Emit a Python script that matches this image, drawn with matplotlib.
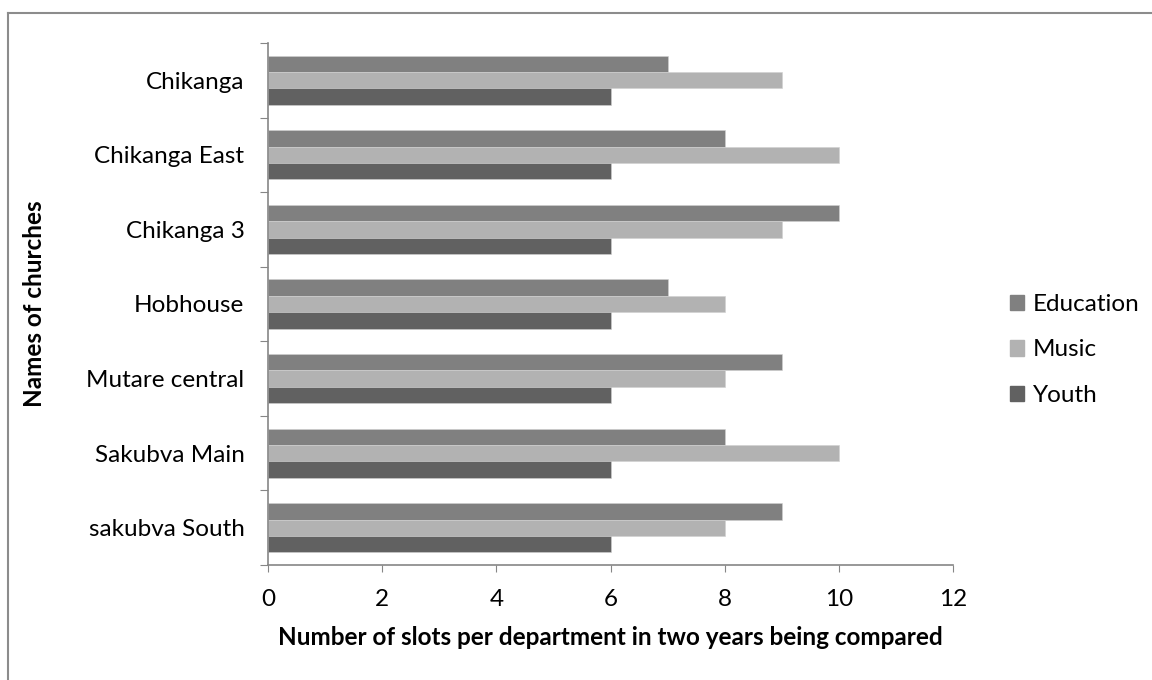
import matplotlib

matplotlib.use("Agg")
import matplotlib.pyplot as plt
import numpy as np
from matplotlib.lines import Line2D

churches = ["Chikanga", "Chikanga East", "Chikanga 3", "Hobhouse",
            "Mutare central", "Sakubva Main", "sakubva South"]
education = [7, 8, 10, 7, 9, 8, 9]
music = [9, 10, 9, 8, 8, 10, 8]
youth = [6, 6, 6, 6, 6, 6, 6]

series = [("Education", education, "#808080"),
          ("Music", music, "#b2b2b2"),
          ("Youth", youth, "#616161")]

plt.rcParams["font.family"] = ["Lato", "DejaVu Sans"]
FS = 17.5

fig = plt.figure(figsize=(11.52, 6.8), dpi=100)
ax = fig.add_axes([268 / 1152, 1 - 565 / 680, (953 - 268) / 1152, (565 - 43) / 680])

n = len(churches)
pos = np.arange(n)[::-1]
h = 0.22
for i, (name, vals, color) in enumerate(series):
    ax.barh(pos + (1 - i) * h, vals, height=h, color=color, label=name,
            edgecolor="#d0d0d0", linewidth=0.4)

ax.set_xlim(0, 12)
ax.set_ylim(-0.5, n - 0.5)
ax.set_xticks(range(0, 13, 2))
ax.tick_params(axis="x", labelsize=FS, length=5, color="#868686", pad=12)

# category ticks sit on group boundaries, labels in the middle
ax.set_yticks(np.arange(-0.5, n, 1.0))
ax.set_yticklabels([])
ax.set_yticks(pos, minor=True)
ax.set_yticklabels(churches, minor=True, fontsize=FS)
ax.tick_params(axis="y", which="major", length=6, color="#868686")
ax.tick_params(axis="y", which="minor", length=0, pad=17)

for side in ("top", "right"):
    ax.spines[side].set_visible(False)
for side in ("left", "bottom"):
    ax.spines[side].set_color("#868686")
    ax.spines[side].set_linewidth(1.2)

ax.set_xlabel("Number of slots per department in two years being compared",
              fontsize=FS, fontweight="bold", labelpad=12)
ax.set_ylabel("Names of churches", fontsize=FS, fontweight="bold", labelpad=29)

handles = [plt.Rectangle((0, 0), 1, 1, color=c) for _, _, c in series]
fig.legend(handles, [s[0] for s in series], loc="center left",
           bbox_to_anchor=(988 / 1152, 1 - 350 / 680), frameon=False,
           fontsize=FS, handlelength=0.6, handleheight=0.6, handletextpad=0.35,
           labelspacing=1.0)

# outer chart border
fig.add_artist(Line2D([8 / 1152, 8 / 1152], [0, 1 - 13 / 680],
                      transform=fig.transFigure, color="#8c8c8c", lw=1.5))
fig.add_artist(Line2D([8 / 1152, 1], [1 - 13 / 680, 1 - 13 / 680],
                      transform=fig.transFigure, color="#8c8c8c", lw=1.5))

fig.savefig("out.png", dpi=100)
